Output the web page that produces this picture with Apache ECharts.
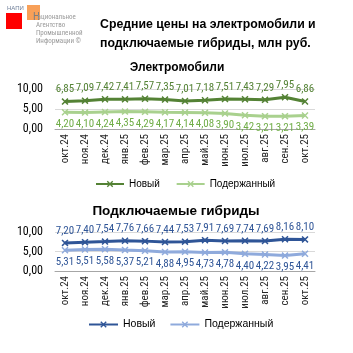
<!DOCTYPE html>
<html>
<head>
<meta charset="utf-8">
<script src="https://cdn.jsdelivr.net/npm/echarts@6/dist/echarts.min.js"></script>
<style>
  html, body { margin: 0; padding: 0; background: #fff; }
  #chart { width: 353px; height: 353px; }
</style>
</head>
<body>
<div id="chart"></div>
<script>
// месяцы
const months = ['окт.24', 'ноя.24', 'дек.24', 'янв.25', 'фев.25', 'мар.25', 'апр.25',
  'май.25', 'июн.25', 'июл.25', 'авг.25', 'сен.25', 'окт.25']
// электромобили
const evNew = [6.85, 7.09, 7.42, 7.41, 7.57, 7.35, 7.01, 7.18, 7.51, 7.43, 7.29, 7.95, 6.86]
const evUsed = [4.20, 4.10, 4.24, 4.35, 4.29, 4.17, 4.14, 4.08, 3.90, 3.42, 3.21, 3.21, 3.39]
// подключаемые гибриды
const phevNew = [7.20, 7.40, 7.54, 7.76, 7.66, 7.44, 7.53, 7.91, 7.69, 7.74, 7.69, 8.16, 8.10]
const phevUsed = [5.31, 5.51, 5.58, 5.37, 5.21, 4.88, 4.95, 4.73, 4.78, 4.40, 4.22, 3.95, 4.41]

const narrow = "'Roboto Condensed', 'Liberation Sans', sans-serif"
const sans = "'Liberation Sans', sans-serif"
const xMark = 'path://M0,1.5L1.5,0L5,3.5L8.5,0L10,1.5L6.5,5L10,8.5L8.5,10L5,6.5L1.5,10L0,8.5L3.5,5Z'
const fmt = v => v.toFixed(2).replace('.', ',')

const chart = echarts.init(document.getElementById('chart'))

function yAxis(idx) {
  return {
    type: 'value', gridIndex: idx, min: 0, max: 10, interval: 5,
    axisLabel: { formatter: fmt, fontSize: 12, color: '#000', fontFamily: narrow, margin: 12 },
    splitLine: { lineStyle: { color: '#D9D9D9' } },
    axisLine: { show: false }, axisTick: { show: false }
  }
}
function xAxis(idx) {
  return {
    type: 'category', gridIndex: idx, data: months,
    axisLabel: { rotate: 90, fontSize: 11, color: '#262626', fontFamily: narrow, margin: 5, interval: 0 },
    axisLine: { lineStyle: { color: '#A6A6A6' } },
    axisTick: { length: 5, lineStyle: { color: '#A6A6A6' } }
  }
}
function line(name, data, idx, color, labelColor, pos) {
  return {
    name: name, type: 'line', data: data, xAxisIndex: idx, yAxisIndex: idx,
    symbol: xMark, symbolSize: 7, showAllSymbol: true,
    lineStyle: { color: color, width: 3 },
    itemStyle: { color: color },
    label: {
      show: true, position: pos, distance: 3, formatter: p => fmt(p.value),
      fontSize: 11, color: labelColor, fontFamily: narrow
    }
  }
}

const option = {
  animation: false,
  title: [
    { text: 'Средние цены на электромобили и\nподключаемые гибриды, млн руб.', left: 95, top: 10,
      textStyle: { fontSize: 12.3, fontWeight: 'bold', color: '#000', fontFamily: sans, lineHeight: 19 } },
    { text: 'Электромобили', left: 172, top: 57, textAlign: 'center',
      textStyle: { fontSize: 12, fontWeight: 'bold', color: '#000', fontFamily: sans } },
    { text: 'Подключаемые гибриды', left: 171, top: 199, textAlign: 'center',
      textStyle: { fontSize: 13.5, fontWeight: 'bold', color: '#000', fontFamily: sans } }
  ],
  legend: [
    { data: ['Новый ', 'Подержанный '], top: 174, left: 90, itemWidth: 28, itemHeight: 8, itemGap: 13,
      textStyle: { fontSize: 10, color: '#000', fontFamily: sans } },
    { data: ['Новый', 'Подержанный'], top: 314, left: 83, itemWidth: 29, itemHeight: 8, itemGap: 14,
      textStyle: { fontSize: 10.5, color: '#000', fontFamily: sans } }
  ],
  grid: [
    { left: 55, width: 260, top: 89, height: 40 },
    { left: 55, width: 260, top: 232, height: 39 }
  ],
  xAxis: [xAxis(0), xAxis(1)],
  yAxis: [yAxis(0), yAxis(1)],
  series: [
    line('Новый ', evNew, 0, '#548235', '#548235', 'top'),
    line('Подержанный ', evUsed, 0, '#A9D18E', '#70AD47', 'bottom'),
    line('Новый', phevNew, 1, '#2F5597', '#2F5597', 'top'),
    line('Подержанный', phevUsed, 1, '#8FAADC', '#2F5597', 'bottom')
  ],
  graphic: [
    { type: 'text', left: 7, top: 5, style: { text: 'НАПИ', fontSize: 6, fill: '#6F7F99', fontFamily: sans } },
    { type: 'rect', shape: { x: 6, y: 13, width: 16, height: 16 }, style: { fill: '#FF0000' } },
    { type: 'rect', shape: { x: 27, y: 5, width: 13, height: 15 }, style: { fill: '#F79646', opacity: 0.9 } },
    { type: 'text', left: 33, top: 12, style: { text: 'Н', fontSize: 11, fill: '#7F7F7F', fontFamily: narrow } },
    { type: 'text', left: 36, top: 13, style: {
      text: ' ациональное\nАгентство\nПромышленной\nИнформации ©', fontSize: 7, lineHeight: 8,
      fill: '#9A9A9A', fontFamily: narrow } }
  ]
}
chart.setOption(option)
</script>
</body>
</html>
